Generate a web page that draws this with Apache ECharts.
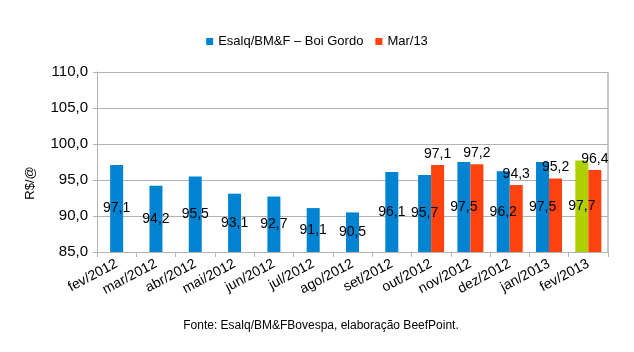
<!DOCTYPE html>
<html>
<head>
<meta charset="utf-8">
<script src="https://cdn.jsdelivr.net/npm/echarts@6/dist/echarts.min.js"></script>
<style>
  html, body { margin: 0; padding: 0; background: #fff; }
  #chart { width: 634px; height: 352px; }
</style>
</head>
<body>
<div id="chart"></div>
<script>
const categories = ['fev/2012', 'mar/2012', 'abr/2012', 'mai/2012', 'jun/2012', 'jul/2012', 'ago/2012',
  'set/2012', 'out/2012', 'nov/2012', 'dez/2012', 'jan/2013', 'fev/2013']
const esalq = [97.1, 94.2, 95.5, 93.1, 92.7, 91.1, 90.5, 96.1, 95.7, 97.5, 96.2, 97.5, 97.7]
const mar13 = [null, null, null, null, null, null, null, null, 97.1, 97.2, 94.3, 95.2, 96.4]
const yTicks = [85, 90, 95, 100, 105, 110]

const BLUE = '#0084d1'
const RED = '#ff420e'
const GREEN = '#aecf00'
const GRID = '#b3b3b3'
const FONT = 'Liberation Sans, Arial, sans-serif'

const comma = v => v.toFixed(1).replace('.', ',')

// months without a Mar/13 value get a centred bar on a hidden axis
const solo = esalq.map((v, i) => (mar13[i] == null ? v : null))
const paired = esalq.map((v, i) => {
  if (mar13[i] == null) return null
  if (i === esalq.length - 1) return { value: v, itemStyle: { color: GREEN } }
  return v
})

const insideLabel = {
  show: true,
  position: 'inside',
  color: '#000',
  fontSize: 14,
  fontFamily: FONT,
  textBorderWidth: 0,
  formatter: p => comma(p.value),
}

const chart = echarts.init(document.getElementById('chart'))
chart.setOption({
  animation: false,
  textStyle: { fontFamily: FONT },
  legend: {
    data: ['Esalq/BM&F – Boi Gordo', 'Mar/13'],
    top: 30,
    left: 'center',
    itemWidth: 7,
    itemHeight: 7,
    itemGap: 12,
    icon: 'rect',
    textStyle: { fontSize: 13, color: '#000', fontFamily: FONT },
  },
  grid: { left: 97, right: 26, top: 72, bottom: 100 },
  xAxis: [
    {
      type: 'category',
      data: categories,
      axisLine: { lineStyle: { color: GRID } },
      axisTick: { show: true, interval: 0, length: 5, lineStyle: { color: GRID } },
      axisLabel: { interval: 0, rotate: 28, color: '#000', fontSize: 14, margin: 11, fontFamily: FONT },
    },
    { type: 'category', data: categories, show: false },
  ],
  yAxis: {
    type: 'value',
    min: yTicks[0],
    max: yTicks[yTicks.length - 1],
    interval: 5,
    axisLine: { show: true, lineStyle: { color: GRID } },
    axisTick: { show: true, length: 4, lineStyle: { color: GRID } },
    axisLabel: { color: '#000', fontSize: 15, margin: 9, formatter: v => comma(v), fontFamily: FONT },
    splitLine: { lineStyle: { color: GRID } },
  },
  graphic: [
    {
      type: 'rect',
      shape: { x: 608, y: 72, width: 0, height: 180 },
      style: { stroke: GRID, lineWidth: 1 },
    },
    {
      type: 'text',
      x: 30, y: 183, rotation: Math.PI / 2,
      style: { text: 'R$/@', fontSize: 13, fill: '#000', align: 'center', verticalAlign: 'middle', fontFamily: FONT },
    },
    {
      type: 'text',
      x: 321, y: 326,
      style: {
        text: 'Fonte: Esalq/BM&FBovespa, elaboração BeefPoint.',
        fontSize: 12, fill: '#000', align: 'center', verticalAlign: 'middle', fontFamily: FONT,
      },
    },
  ],
  series: [
    {
      name: 'Esalq/BM&F – Boi Gordo',
      type: 'bar',
      xAxisIndex: 1,
      data: solo,
      barWidth: 13,
      itemStyle: { color: BLUE },
      label: insideLabel,
    },
    {
      name: 'Esalq/BM&F – Boi Gordo',
      type: 'bar',
      data: paired,
      barWidth: 13,
      barGap: '0%',
      itemStyle: { color: BLUE },
      label: insideLabel,
    },
    {
      name: 'Mar/13',
      type: 'bar',
      data: mar13,
      barWidth: 13,
      barGap: '0%',
      itemStyle: { color: RED },
      label: {
        show: true,
        position: 'top',
        distance: 4,
        color: '#000',
        fontSize: 14,
        fontFamily: FONT,
        formatter: p => comma(p.value),
      },
    },
  ],
})
</script>
</body>
</html>
